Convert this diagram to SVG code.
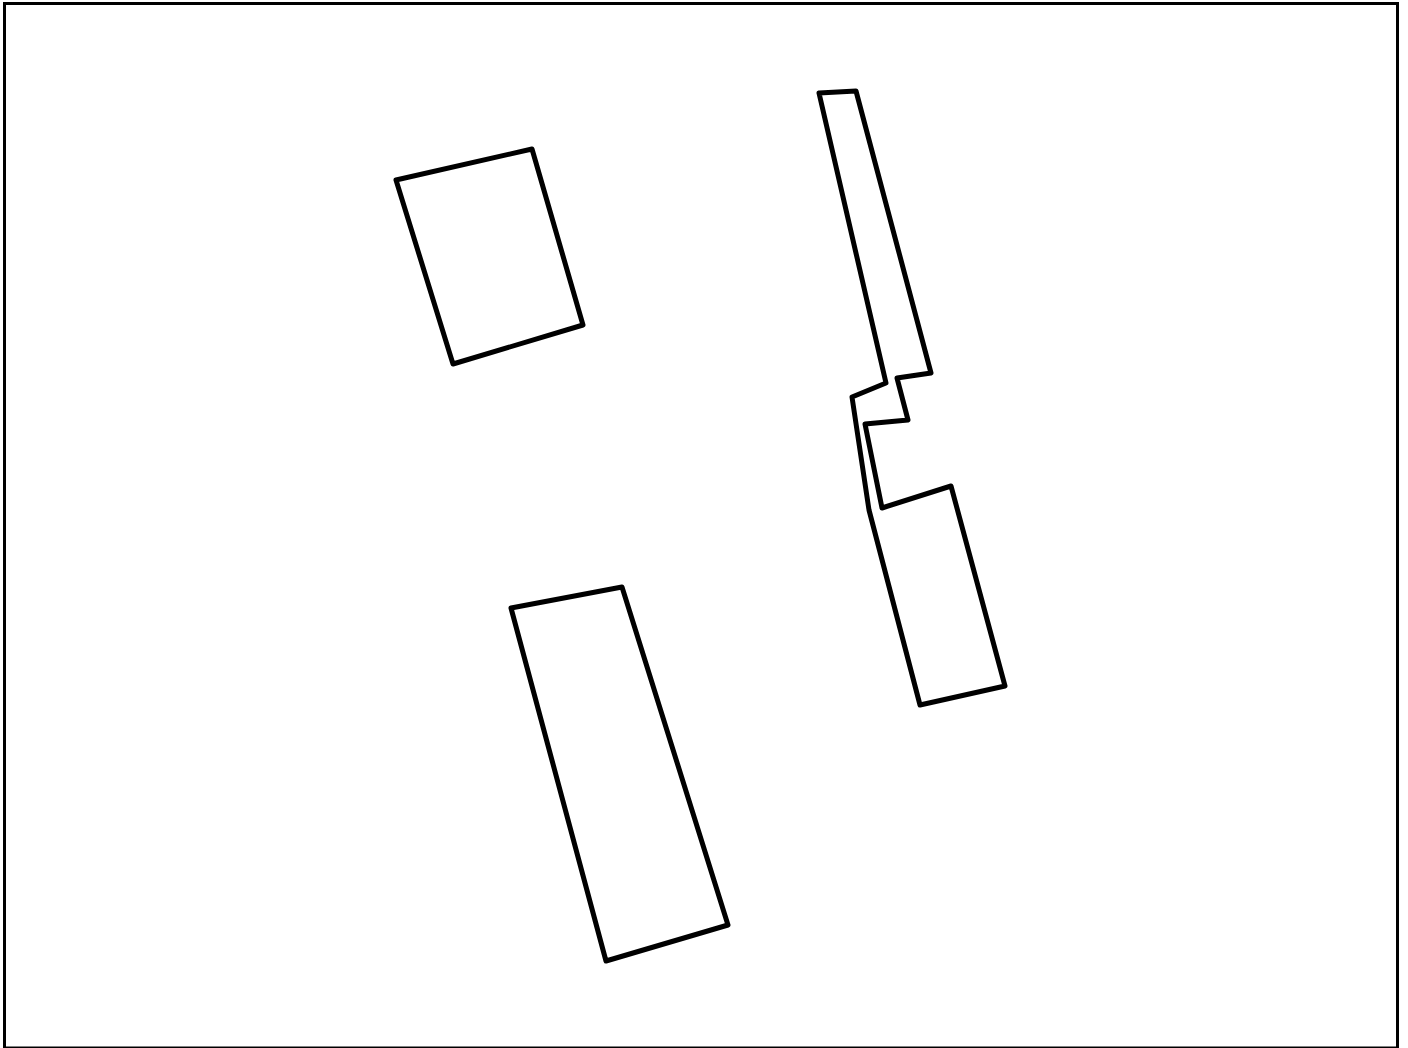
<svg xmlns="http://www.w3.org/2000/svg" width="1408" height="1048" viewBox="0 0 1408 1048">
<style>
.b{fill:none;stroke:#000;stroke-width:5;stroke-linejoin:round}
.f{fill:none;stroke:#000;stroke-width:3}
</style>
<rect x="0" y="0" width="1408" height="1048" fill="#fff"/>
<rect class="f" x="4.5" y="3.5" width="1393" height="1044.5"/>
<g id="building-a"><polygon class="b" points="396,180 532,149 583,325 453,364"/></g>
<g id="building-b"><polygon class="b" points="511,608 622,587 728,925 606,961"/></g>
<g id="building-c"><polygon class="b" points="819,93 856,91 931,373 897,378 908,420 865,424 882,508 951,486 1005,686 920,705 869,510 852,397 886,383"/></g>
</svg>
